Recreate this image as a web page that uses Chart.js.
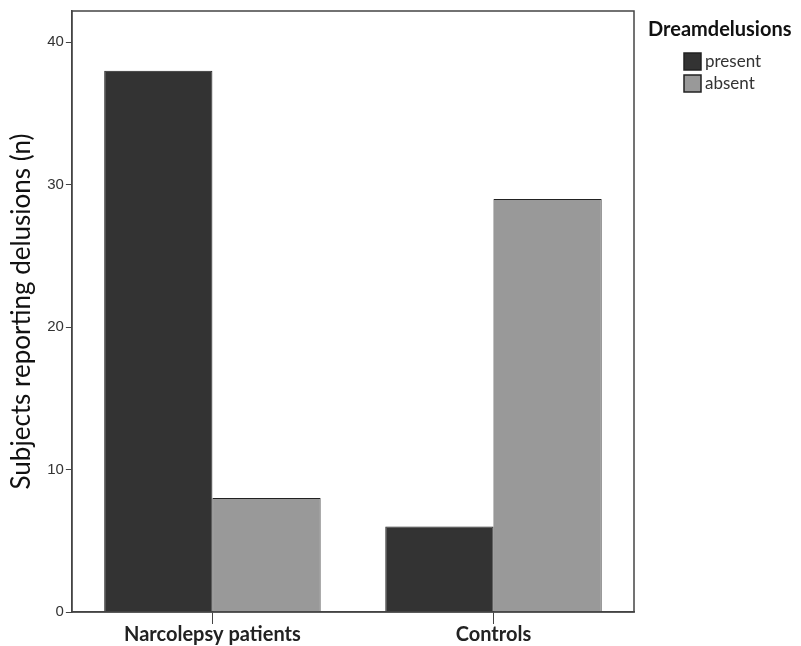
<!DOCTYPE html>
<html>
<head>
<meta charset="utf-8">
<script src="https://cdn.jsdelivr.net/npm/chart.js@4"></script>
<style>
  html, body { margin: 0; padding: 0; background: #fff; }
  #wrap { width: 801px; height: 646px; }
</style>
</head>
<body>
<div id="wrap"><canvas id="chart"></canvas></div>
<script>
// Data
const categories = ['Narcolepsy patients', 'Controls'];
const presentValues = [38, 6];
const absentValues = [8, 29];
const seriesNames = ['present', 'absent'];
const legendTitle = 'Dreamdelusions';
const yTicks = [0, 10, 20, 30, 40];

// frame round the plot area
const frameBox = {
    id: 'frameBox',
    afterDatasetsDraw(chart) {
        const a = chart.chartArea;
        const ctx = chart.ctx;
        ctx.save();
        ctx.strokeStyle = '#444';
        ctx.lineWidth = 1.5;
        ctx.strokeRect(a.left, a.top, a.right - a.left, a.bottom - a.top);
        ctx.restore();
    }
};

// legend on the right, title above the boxes (SPSS style)
const sideLegend = {
    id: 'sideLegend',
    afterDraw(chart) {
        const ctx = chart.ctx;
        const x0 = chart.chartArea.right + 14;
        ctx.save();
        ctx.fillStyle = '#111';
        ctx.font = 'bold 20px Lato';
        ctx.textBaseline = 'alphabetic';
        ctx.textAlign = 'left';
        ctx.fillText(legendTitle, x0, 36);
        ctx.font = '17px Lato';
        chart.data.datasets.forEach((ds, i) => {
            const y = 53 + i * 22;
            ctx.fillStyle = ds.backgroundColor;
            ctx.fillRect(x0 + 36, y, 17, 17);
            ctx.strokeStyle = '#222';
            ctx.lineWidth = 1.5;
            ctx.strokeRect(x0 + 36, y, 17, 17);
            ctx.fillStyle = '#333';
            ctx.textBaseline = 'middle';
            ctx.fillText(ds.label, x0 + 57, y + 9);
        });
        ctx.restore();
    }
};

new Chart(document.getElementById('chart'), {
    type: 'bar',
    data: {
        labels: categories,
        datasets: [
            {
                label: seriesNames[0],
                data: presentValues,
                backgroundColor: '#333333',
                borderColor: '#222222',
                borderWidth: 1
            },
            {
                label: seriesNames[1],
                data: absentValues,
                backgroundColor: '#999999',
                borderColor: '#222222',
                borderWidth: 1
            }
        ]
    },
    options: {
        responsive: true,
        maintainAspectRatio: false,
        animation: false,
        categoryPercentage: 0.77,
        barPercentage: 1,
        layout: { padding: { top: 10, left: 6, right: 167, bottom: 0 } },
        plugins: {
            tooltip: { enabled: false },
            legend: { display: false }
        },
        scales: {
            x: {
                grid: {
                    drawOnChartArea: false,
                    tickLength: 12,
                    color: '#444',
                    offset: false
                },
                border: { color: '#444', width: 1.5 },
                ticks: {
                    color: '#222',
                    font: { family: 'Lato', size: 20, weight: 'bold' },
                    padding: -1
                }
            },
            y: {
                min: 0,
                max: 42.2,
                afterBuildTicks(scale) {
                    scale.ticks = yTicks.map(v => ({ value: v }));
                },
                grid: {
                    drawOnChartArea: false,
                    tickLength: 6,
                    color: '#444'
                },
                border: { color: '#444', width: 1.5 },
                ticks: {
                    color: '#333',
                    font: { family: 'Liberation Sans', size: 15 },
                    padding: 2
                },
                title: {
                    display: true,
                    text: 'Subjects reporting delusions (n)',
                    color: '#111',
                    font: { family: 'Lato', size: 26 },
                    padding: { top: 0, bottom: 8 }
                }
            }
        }
    },
    plugins: [frameBox, sideLegend]
});
</script>
</body>
</html>
